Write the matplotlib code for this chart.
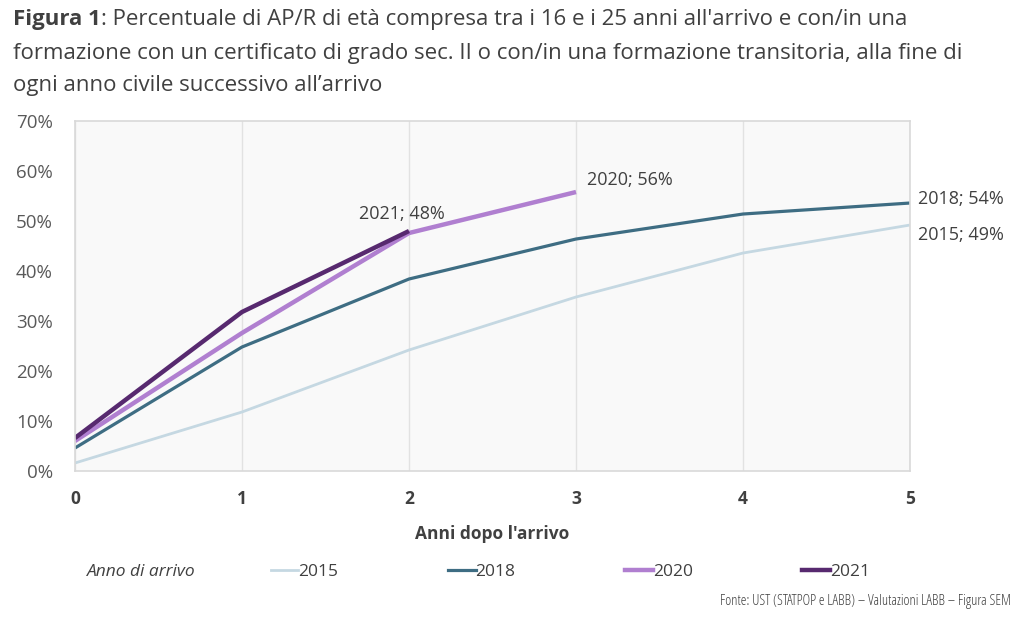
import matplotlib.pyplot as plt
from matplotlib.lines import Line2D

plt.rcParams['font.family'] = ['Open Sans', 'DejaVu Sans']

anni = [0, 1, 2, 3, 4, 5]
v2015 = [1.6, 11.8, 24.2, 34.8, 43.6, 49.2]
v2018 = [4.6, 24.8, 38.4, 46.4, 51.4, 53.6]
v2020 = [6.0, 27.6, 47.6, 55.8]
v2021 = [6.6, 31.8, 48.0]

serie = [
    ("2015", v2015, "#c5d8e2", 2.0),
    ("2018", v2018, "#3e6d83", 2.3),
    ("2020", v2020, "#b07fd0", 3.2),
    ("2021", v2021, "#57296f", 3.2),
]

titolo = [
    "Percentuale di AP/R di età compresa tra i 16 e i 25 anni all'arrivo e con/in una",
    "formazione con un certificato di grado sec. II o con/in una formazione transitoria, alla fine di",
    "ogni anno civile successivo all’arrivo",
]

fig = plt.figure(figsize=(10.24, 6.2), dpi=100)
ax = fig.add_axes([0.0732, 0.2403, 0.8155, 0.5645])
ax.set_facecolor("#f9f9f9")

for nome, vals, col, lw in serie:
    ax.plot(anni[:len(vals)], vals, color=col, lw=lw, solid_capstyle="butt", label=nome)

ax.set_xlim(0, 5)
ax.set_ylim(0, 70)
ax.set_xticks(anni)
ax.set_yticks(range(0, 71, 10))
ax.set_yticklabels([f"{v}%" for v in range(0, 71, 10)])
ax.grid(axis="x", color="#e2e2e2", lw=1)
ax.set_axisbelow(True)
for s in ax.spines.values():
    s.set_color("#d9d9d9")
    s.set_linewidth(1.2)
ax.tick_params(length=0)
ax.tick_params(axis="y", colors="#595959", labelsize=13.5, pad=16)
ax.tick_params(axis="x", labelsize=12.5, pad=14)
for t in ax.get_xticklabels():
    t.set_fontweight("bold")
    t.set_color("#404040")
ax.set_xlabel("Anni dopo l'arrivo", fontsize=12.5, fontweight="bold", color="#404040", labelpad=12)

lab_kw = dict(fontsize=13, color="#404040")
ax.annotate(f"2021; {v2021[2]:.0f}%", (2, v2021[2]), xytext=(-5, 6), textcoords="offset points",
            ha="center", va="bottom", **lab_kw)
ax.annotate(f"2020; {v2020[3]:.0f}%", (3, v2020[3]), xytext=(8, 2), textcoords="offset points",
            ha="left", va="bottom", **lab_kw)
ax.annotate(f"2018; {v2018[5]:.0f}%", (5, v2018[5]), xytext=(6, 3), textcoords="offset points",
            ha="left", va="center", annotation_clip=False, **lab_kw)
ax.annotate(f"2015; {v2015[5]:.0f}%", (5, v2015[5]), xytext=(6, -7), textcoords="offset points",
            ha="left", va="center", annotation_clip=False, **lab_kw)

# titolo: prefisso in grassetto + resto normale, una riga alla volta
tit_kw = dict(fontsize=16, color="#404040", va="center")
righe_y = [1 - 20 / 620, 1 - 53 / 620, 1 - 86 / 620]
t1 = fig.text(0.013, righe_y[0], "Figura 1", fontweight="bold", **tit_kw)
fig.canvas.draw()
x_after = t1.get_window_extent().x1 / fig.bbox.width
fig.text(x_after, righe_y[0], ": " + titolo[0], **tit_kw)
fig.text(0.013, righe_y[1], titolo[1], **tit_kw)
fig.text(0.013, righe_y[2], titolo[2], **tit_kw)

fig.text(0.085, 0.078, "Anno di arrivo", fontsize=12.5, style="italic", color="#404040", va="center")
handles = [Line2D([], [], color=c, lw=lw) for _, _, c, lw in serie]
fig.legend(handles, [s[0] for s in serie], loc="center left", bbox_to_anchor=(0.249, 0.078),
           ncol=4, frameon=False, fontsize=12.5, handlelength=1.6, handletextpad=0.0,
           columnspacing=6.3, labelcolor="#404040")

fig.text(0.987, 0.018, "Fonte: UST (STATPOP e LABB) – Valutazioni LABB – Figura SEM",
         fontsize=10.5, color="#404040", ha="right", va="bottom", fontstretch="condensed")

fig.savefig("out.png", dpi=100, facecolor="white")
